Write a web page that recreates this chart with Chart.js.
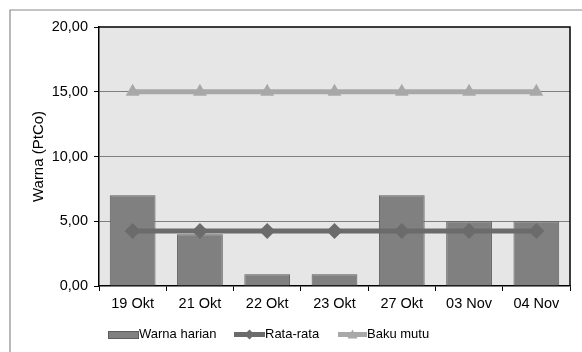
<!DOCTYPE html>
<html>
<head>
<meta charset="utf-8">
<script src="https://cdn.jsdelivr.net/npm/chart.js@4.4.1/dist/chart.umd.min.js"></script>
<style>
  html, body { margin: 0; padding: 0; background: #fff; }
  #wrap { position: relative; width: 582px; height: 352px; }
  canvas { display: block; }
</style>
</head>
<body>
<div id="wrap"><canvas id="c" width="582" height="352"></canvas></div>
<script>
const categories = ['19 Okt', '21 Okt', '22 Okt', '23 Okt', '27 Okt', '03 Nov', '04 Nov'];
const warnaHarian = [7, 4, 0.9, 0.9, 7, 5, 5];
const rataRata = [4.25, 4.25, 4.25, 4.25, 4.25, 4.25, 4.25];
const bakuMutu = [15, 15, 15, 15, 15, 15, 15];
const yTickLabels = ['0,00', '5,00', '10,00', '15,00', '20,00'];
const seriesNames = ['Warna harian', 'Rata-rata', 'Baku mutu'];
const yTitle = 'Warna (PtCo)';

Chart.defaults.font.family = '"Liberation Sans", Arial, sans-serif';
Chart.defaults.color = '#000';

const BAR_FILL = '#808080', BAR_BORDER = '#5c5c5c';
const AVG_COL = '#6b6b6b', STD_COL = '#a8a8a8';

const decor = {
  id: 'decor',
  beforeDraw(chart) {
    const { ctx, chartArea: a } = chart;
    ctx.save();
    ctx.fillStyle = '#fff';
    ctx.fillRect(0, 0, chart.width, chart.height);
    // outer frame
    ctx.strokeStyle = '#8a8a8a';
    ctx.lineWidth = 1.2;
    ctx.beginPath();
    ctx.moveTo(10, 400); ctx.lineTo(10, 10); ctx.lineTo(700, 10);
    ctx.stroke();
    // plot background
    ctx.fillStyle = '#e6e6e6';
    ctx.fillRect(a.left, a.top, a.right - a.left, a.bottom - a.top);
    ctx.restore();
  },
  afterDraw(chart) {
    const { ctx, chartArea: a } = chart;
    ctx.save();
    ctx.strokeStyle = '#000';
    ctx.lineWidth = 1.5;
    ctx.beginPath();
    ctx.moveTo(a.left, a.top); ctx.lineTo(a.right, a.top); ctx.lineTo(a.right, a.bottom);
    ctx.stroke();
    // legend
    const y = 334.5;
    ctx.font = '13px "Liberation Sans", Arial, sans-serif';
    ctx.textBaseline = 'middle';
    ctx.fillStyle = '#000';
    // item 1: box
    ctx.fillStyle = BAR_FILL;
    ctx.fillRect(108, 331, 30, 7);
    ctx.strokeStyle = BAR_BORDER; ctx.lineWidth = 1;
    ctx.strokeRect(108.5, 331.5, 30, 7);
    ctx.fillStyle = '#000';
    ctx.fillText(seriesNames[0], 139, y);
    // item 2: line + diamond
    ctx.strokeStyle = AVG_COL; ctx.lineWidth = 5;
    ctx.beginPath(); ctx.moveTo(234, y); ctx.lineTo(265, y); ctx.stroke();
    ctx.fillStyle = AVG_COL;
    ctx.beginPath();
    ctx.moveTo(249.5, y - 5); ctx.lineTo(254.5, y); ctx.lineTo(249.5, y + 5); ctx.lineTo(244.5, y);
    ctx.closePath(); ctx.fill();
    ctx.fillStyle = '#000';
    ctx.fillText(seriesNames[1], 265, y);
    // item 3: line + triangle
    ctx.strokeStyle = STD_COL; ctx.lineWidth = 5;
    ctx.beginPath(); ctx.moveTo(338, y); ctx.lineTo(367, y); ctx.stroke();
    ctx.fillStyle = STD_COL;
    ctx.beginPath();
    ctx.moveTo(352.5, y - 5); ctx.lineTo(357.5, y + 4); ctx.lineTo(347.5, y + 4);
    ctx.closePath(); ctx.fill();
    ctx.fillStyle = '#000';
    ctx.fillText(seriesNames[2], 367, y);
    ctx.restore();
  }
};

new Chart(document.getElementById('c'), {
  data: {
    labels: categories,
    datasets: [
      {
        type: 'line', label: seriesNames[2], data: bakuMutu, order: 1,
        borderColor: STD_COL, backgroundColor: STD_COL, borderWidth: 5,
        pointStyle: 'triangle', pointRadius: 8, pointBorderWidth: 0,
        pointBackgroundColor: STD_COL
      },
      {
        type: 'line', label: seriesNames[1], data: rataRata, order: 2,
        borderColor: AVG_COL, backgroundColor: AVG_COL, borderWidth: 5,
        pointStyle: 'rectRot', pointRadius: 8, pointBorderWidth: 0,
        pointBackgroundColor: AVG_COL
      },
      {
        type: 'bar', label: seriesNames[0], data: warnaHarian, order: 3,
        backgroundColor: BAR_FILL, borderColor: BAR_BORDER, borderWidth: 1,
        categoryPercentage: 1, barPercentage: 0.68
      }
    ]
  },
  options: {
    responsive: false,
    animation: false,
    events: [],
    layout: { padding: { left: 0, top: 27, right: 12, bottom: 0 } },
    plugins: { legend: { display: false }, tooltip: { enabled: false } },
    scales: {
      x: {
        type: 'category',
        offset: true,
        grid: { offset: true, drawOnChartArea: false, drawTicks: true, tickLength: 5, tickColor: '#000', color: '#000' },
        border: { display: true, color: '#000', width: 1.5 },
        ticks: { font: { size: 14.5 }, padding: 4, maxRotation: 0, autoSkip: false },
        afterFit(s) { s.height = 66; }
      },
      y: {
        min: 0, max: 20,
        grid: {
          color: (c) => (c.tick && (c.tick.value === 0 || c.tick.value === 20)) ? 'rgba(0,0,0,0)' : '#7f7f7f',
          tickColor: '#000', tickLength: 5, lineWidth: 1
        },
        border: { display: true, color: '#000', width: 1.5 },
        ticks: {
          stepSize: 5, padding: 6, font: { size: 14.5 },
          callback: (v) => yTickLabels[Math.round(v / 5)]
        },
        title: { display: true, text: yTitle, font: { size: 15 }, padding: { top: 30, bottom: 0 } },
        afterFit(s) { s.width = 99; }
      }
    }
  },
  plugins: [decor]
});
</script>
</body>
</html>
